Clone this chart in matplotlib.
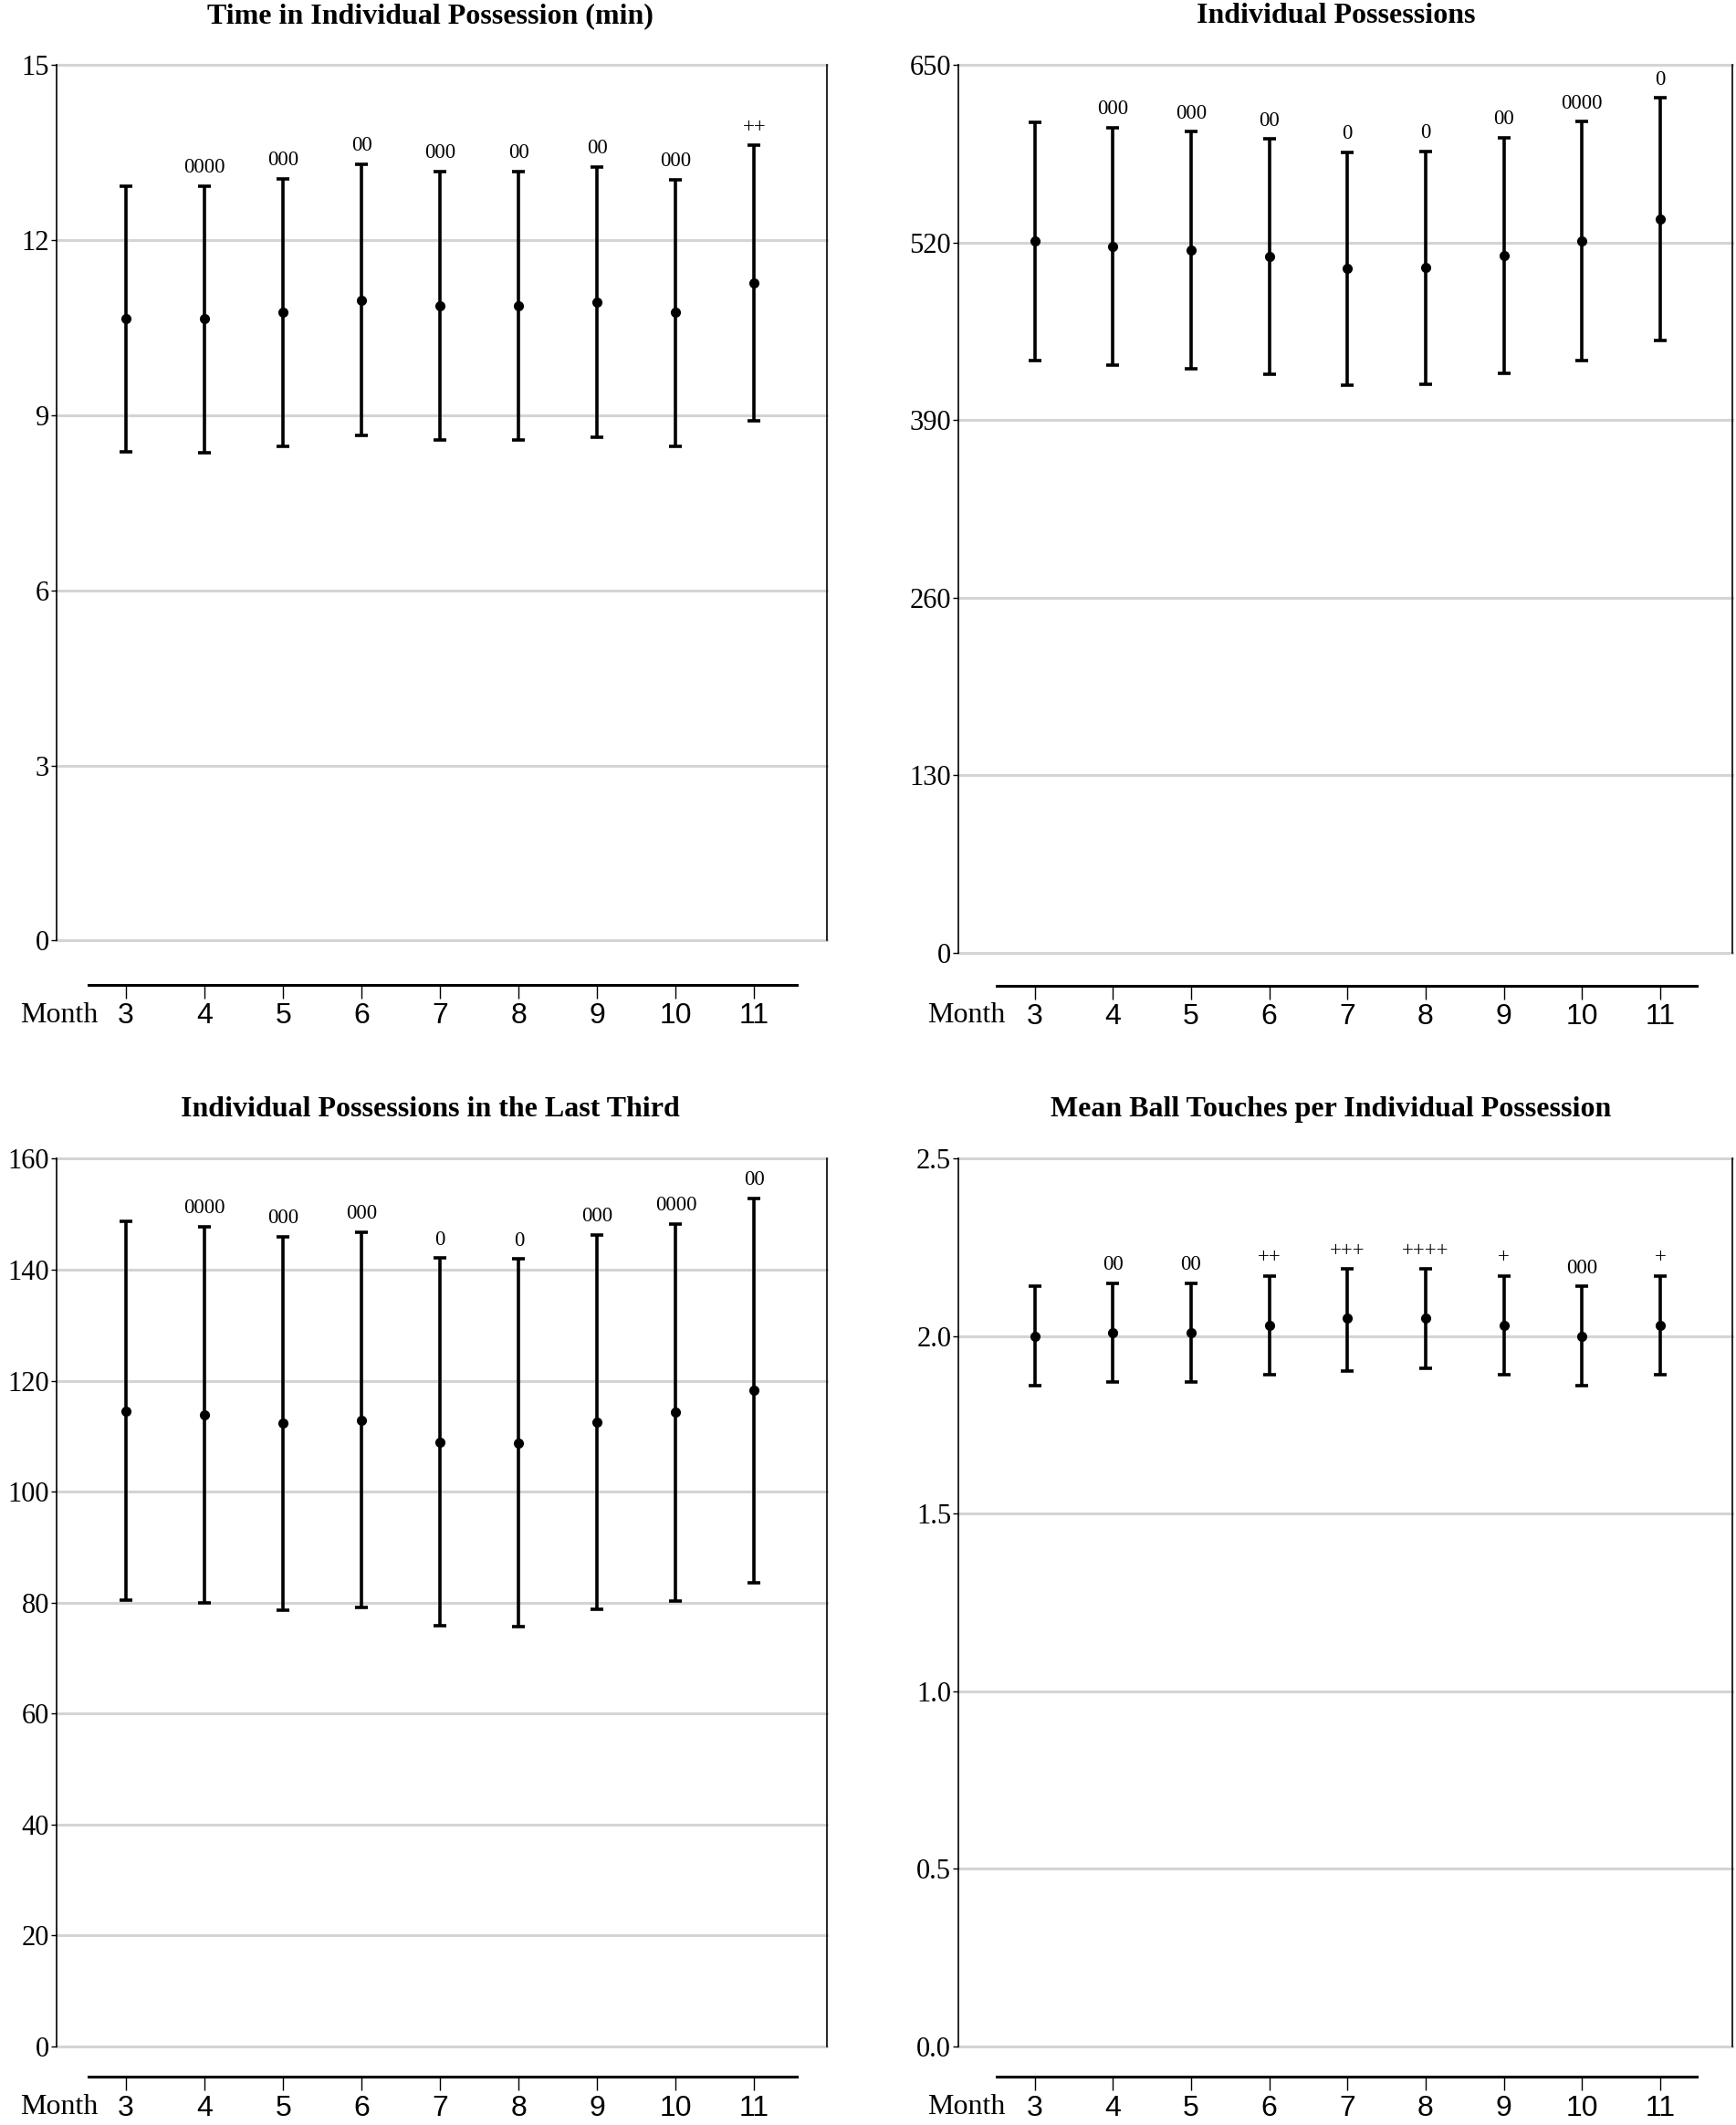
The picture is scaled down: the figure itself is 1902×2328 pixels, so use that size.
import numpy as np
import matplotlib.pyplot as plt

plt.rcParams['font.family'] = ['Liberation Serif', 'DejaVu Serif']

months = [3, 4, 5, 6, 7, 8, 9, 10, 11]

# Time in Individual Possession (min)
time_mean = [10.65, 10.65, 10.76, 10.97, 10.88, 10.88, 10.93, 10.76, 11.27]
time_lo = [8.38, 8.36, 8.47, 8.66, 8.57, 8.57, 8.62, 8.47, 8.91]
time_hi = [12.93, 12.93, 13.05, 13.30, 13.18, 13.18, 13.25, 13.04, 13.62]
time_sig = ['', '0000', '000', '00', '000', '00', '00', '000', '++']

# Individual Possessions
poss_mean = [520.9, 517.3, 514.4, 509.5, 501.1, 501.5, 510.2, 521.1, 537.4]
poss_lo = [433.7, 430.4, 427.7, 423.5, 415.4, 415.9, 424.4, 433.9, 448.4]
poss_hi = [608.3, 604.3, 601.2, 595.8, 586.2, 586.9, 596.7, 608.5, 625.9]
poss_sig = ['', '000', '000', '00', '0', '0', '00', '0000', '0']

# Individual Possessions in the Last Third
third_mean = [114.5, 113.8, 112.4, 112.9, 108.9, 108.7, 112.6, 114.3, 118.2]
third_lo = [80.5, 79.9, 78.6, 79.1, 75.8, 75.6, 78.8, 80.2, 83.5]
third_hi = [148.7, 147.8, 146.0, 146.8, 142.1, 141.9, 146.3, 148.3, 152.8]
third_sig = ['', '0000', '000', '000', '0', '0', '000', '0000', '00']

# Mean Ball Touches per Individual Possession
touch_mean = [2.000, 2.009, 2.009, 2.030, 2.050, 2.050, 2.030, 2.000, 2.030]
touch_lo = [1.860, 1.871, 1.871, 1.891, 1.901, 1.910, 1.891, 1.860, 1.891]
touch_hi = [2.140, 2.150, 2.150, 2.169, 2.189, 2.189, 2.169, 2.140, 2.169]
touch_sig = ['', '00', '00', '++', '+++', '++++', '+', '000', '+']

panels = [
    dict(title='Time in Individual Possession (min)', mean=time_mean, lo=time_lo, hi=time_hi,
         sig=time_sig, yticks=[0, 3, 6, 9, 12, 15], fmt='{:.0f}',
         rect=[0.0328, 0.5574, 0.4438, 0.4120], xlim=(2.12, 11.93), xline=(2.52, 11.54),
         out=35, tpos=(0.2477, 0.9923), mpos=(0.0563, 0.5223)),
    dict(title='Individual Possessions', mean=poss_mean, lo=poss_lo, hi=poss_hi,
         sig=poss_sig, yticks=[0, 130, 260, 390, 520, 650], fmt='{:.0f}',
         rect=[0.5523, 0.5517, 0.4454, 0.4177], xlim=(2.03, 11.92), xline=(2.51, 11.47),
         out=26, tpos=(0.7695, 0.9923), mpos=(0.579, 0.5223)),
    dict(title='Individual Possessions in the Last Third', mean=third_mean, lo=third_lo, hi=third_hi,
         sig=third_sig, yticks=[0, 20, 40, 60, 80, 100, 120, 140, 160], fmt='{:.0f}',
         rect=[0.0328, 0.0370, 0.4438, 0.4177], xlim=(2.12, 11.93), xline=(2.52, 11.54),
         out=24, tpos=(0.2477, 0.4777), mpos=(0.0563, 0.0085)),
    dict(title='Mean Ball Touches per Individual Possession', mean=touch_mean, lo=touch_lo, hi=touch_hi,
         sig=touch_sig, yticks=[0.0, 0.5, 1.0, 1.5, 2.0, 2.5], fmt='{:.1f}',
         rect=[0.5523, 0.0370, 0.4454, 0.4177], xlim=(2.03, 11.92), xline=(2.51, 11.47),
         out=24, tpos=(0.7664, 0.4777), mpos=(0.579, 0.0085)),
]

fig = plt.figure(figsize=(19.02, 23.28), dpi=100)

for p in panels:
    ax = fig.add_axes(p['rect'])
    mean = np.array(p['mean'])
    lo = np.array(p['lo'])
    hi = np.array(p['hi'])
    ax.errorbar(months, mean, yerr=[mean - lo, hi - mean], fmt='o', color='black',
                ms=7, elinewidth=2.6, capsize=5, capthick=2.6, zorder=3)
    for m, h, s in zip(months, hi, p['sig']):
        if s:
            ax.annotate(s, (m, h), xytext=(0, 7), textcoords='offset points',
                        ha='center', va='bottom', fontsize=16.5)

    ax.set_ylim(p['yticks'][0], p['yticks'][-1])
    ax.set_xlim(*p['xlim'])
    ax.set_yticks(p['yticks'])
    ax.set_yticklabels([p['fmt'].format(t) for t in p['yticks']], fontsize=22)
    ax.yaxis.grid(True, color='#d4d4d4', linewidth=2.2)
    for gl in ax.get_ygridlines():
        gl.set_clip_on(False)
    ax.set_axisbelow(True)
    ax.tick_params(axis='y', length=4, width=1, pad=2)

    ax.spines['top'].set_visible(False)
    ax.spines['left'].set_linewidth(1.2)
    ax.spines['right'].set_linewidth(1.2)
    ax.spines['bottom'].set_position(('outward', p['out']))
    ax.spines['bottom'].set_bounds(*p['xline'])
    ax.spines['bottom'].set_linewidth(2.2)
    ax.set_xticks(months)
    ax.set_xticklabels([str(m) for m in months], fontsize=23, family='Liberation Sans')
    ax.tick_params(axis='x', length=11, width=1, pad=3)

    fig.text(p['tpos'][0], p['tpos'][1], p['title'], ha='center', va='center',
             fontsize=23, fontweight='bold')
    fig.text(p['mpos'][0], p['mpos'][1], 'Month', ha='right', va='center', fontsize=23)

fig.savefig('out.png', dpi=100)
